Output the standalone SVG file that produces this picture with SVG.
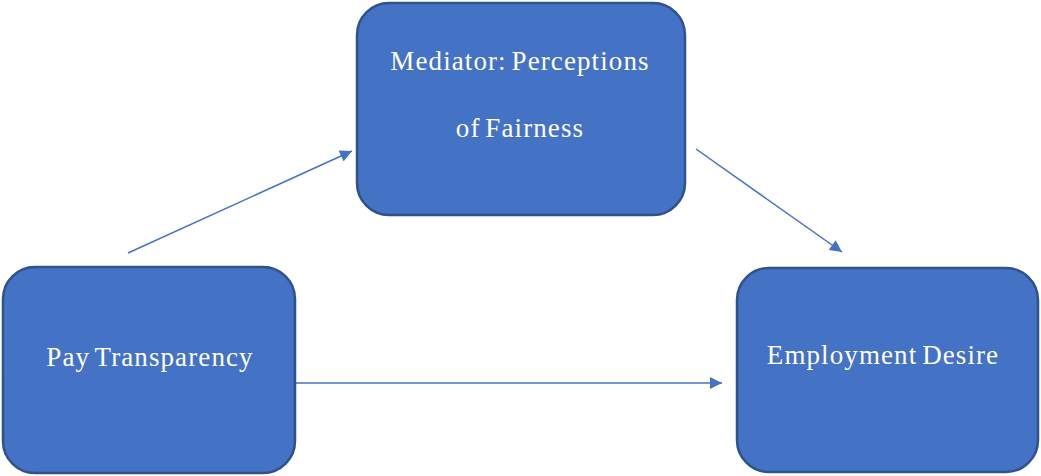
<svg xmlns="http://www.w3.org/2000/svg" width="1041" height="476" viewBox="0 0 1041 476">
  <style>
    .box { fill: #4472C4; stroke: #2F528F; stroke-width: 2.5; }
    .label { font-family: "Liberation Serif", "Times New Roman", serif; font-size: 27px; letter-spacing: 1.1px; word-spacing: -3px; fill: #FFFFFF; text-anchor: middle; }
    .edge { stroke: #4472C4; stroke-width: 1.5; fill: none; }
  </style>
  <defs>
    <marker id="arrow" viewBox="0 0 10 10" refX="10" refY="5" markerUnits="userSpaceOnUse" markerWidth="14" markerHeight="12" orient="auto">
      <path d="M0,0 L10,5 L0,10 Z" fill="#4472C4"/>
    </marker>
  </defs>

  <rect width="1041" height="476" fill="#FFFFFF"/>

  <g id="connectors">
    <line class="edge" x1="128" y1="253" x2="352" y2="151" marker-end="url(#arrow)"/>
    <line class="edge" x1="696" y1="149" x2="842" y2="252" marker-end="url(#arrow)"/>
    <line class="edge" x1="296" y1="383" x2="722" y2="383" marker-end="url(#arrow)"/>
  </g>

  <g id="node-mediator">
    <rect class="box" x="357" y="3" width="328" height="212" rx="32" ry="32"/>
    <text class="label" x="520" y="70">Mediator: Perceptions</text>
    <text class="label" x="520" y="137">of Fairness</text>
  </g>

  <g id="node-pay">
    <rect class="box" x="3" y="267" width="292" height="206" rx="32" ry="32"/>
    <text class="label" x="150" y="366">Pay Transparency</text>
  </g>

  <g id="node-employment">
    <rect class="box" x="737" y="268" width="301" height="204" rx="32" ry="32"/>
    <text class="label" x="883" y="364">Employment Desire</text>
  </g>
</svg>
